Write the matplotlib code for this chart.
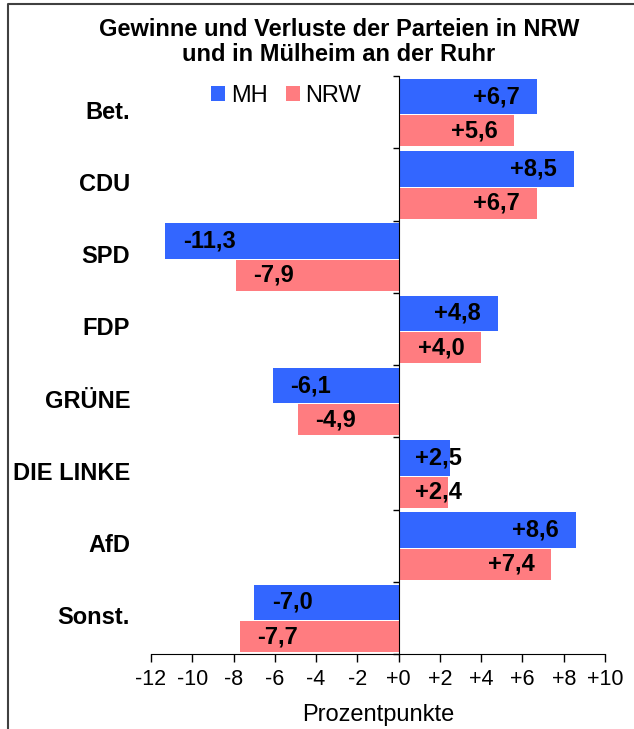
import matplotlib
matplotlib.use("Agg")
import matplotlib.pyplot as plt
from matplotlib.lines import Line2D
import matplotlib.transforms as mtransforms

plt.rcParams["font.family"] = ["Liberation Sans", "DejaVu Sans"]

# data
parties = ["Bet.", "CDU", "SPD", "FDP", "GRÜNE", "DIE LINKE", "AfD", "Sonst."]
mh = [6.7, 8.5, -11.3, 4.8, -6.1, 2.5, 8.6, -7.0]
nrw = [5.6, 6.7, -7.9, 4.0, -4.9, 2.4, 7.4, -7.7]
x_ticks = [-12, -10, -8, -6, -4, -2, 0, 2, 4, 6, 8, 10]
x_tick_labels = ["-12", "-10", "-8", "-6", "-4", "-2", "+0", "+2", "+4", "+6", "+8", "+10"]

blue = "#3366FF"
pink = "#FF7C80"


def fmt(v):
    s = "%+.1f" % v
    return s.replace(".", ",")


fig = plt.figure(figsize=(6.34, 7.29), dpi=100)
ax = fig.add_axes([151 / 634, 1 - 654 / 729, 454 / 634, 578 / 729])

ypos = list(range(len(parties)))

ax.barh([y - 0.215 for y in ypos], mh, height=0.49, color=blue, label="MH")
ax.barh([y + 0.26 for y in ypos], nrw, height=0.43, color=pink, label="NRW")

ax.set_xlim(-12, 10)
ax.set_ylim(len(parties) - 0.5, -0.5)

# bar labels
for series, offset in [(mh, -0.215), (nrw, 0.26)]:
    for y, v in zip(ypos, series):
        if v < 0:
            ax.text(v + 0.85, y + offset, fmt(v), ha="left", va="center",
                    fontsize=17, fontweight="bold")
        elif v < 3.5:
            ax.text(0.8, y + offset, fmt(v), ha="left", va="center",
                    fontsize=17, fontweight="bold")
        else:
            ax.text(v - 0.82, y + offset, fmt(v), ha="right", va="center",
                    fontsize=17, fontweight="bold")

# category labels
trans = mtransforms.blended_transform_factory(ax.transAxes, ax.transData)
for y, name in zip(ypos, parties):
    ax.text(-0.046, y, name, transform=trans, ha="right", va="center",
            fontsize=17, fontweight="bold")

# axes styling
ax.spines["top"].set_visible(False)
ax.spines["right"].set_visible(False)
ax.spines["left"].set_position(("data", 0))
ax.spines["left"].set_color("black")
ax.spines["bottom"].set_color("black")
ax.set_yticks([])
ax.set_yticks([y - 0.5 for y in range(len(parties) + 1)], minor=True)
ax.tick_params(axis="y", which="minor", length=4, width=1, direction="out")

ax.set_xticks(x_ticks)
ax.set_xticklabels(x_tick_labels)
ax.tick_params(axis="x", length=6, width=1, labelsize=15.5, pad=5)

fig.text(378 / 634, 1 - 715 / 729, "Prozentpunkte", ha="center", va="center",
         fontsize=17)

fig.text(339 / 634, 1 - 42 / 729,
         "Gewinne und Verluste der Parteien in NRW\nund in Mülheim an der Ruhr",
         ha="center", va="center", fontsize=17, fontweight="bold",
         linespacing=1.08)

fig.legend(loc="center left", bbox_to_anchor=(211 / 634, 1 - 96 / 729),
           ncol=2, frameon=False, fontsize=17, handlelength=0.6,
           handleheight=0.6, handletextpad=0.25, columnspacing=0.75,
           borderpad=0, borderaxespad=0)

# chart border (left and top only)
fig.add_artist(Line2D([8 / 634, 8 / 634, 1.0], [0.0, 1 - 4 / 729, 1 - 4 / 729],
                      transform=fig.transFigure, color="#404040", lw=1.5))

fig.savefig("out.png", dpi=100)
